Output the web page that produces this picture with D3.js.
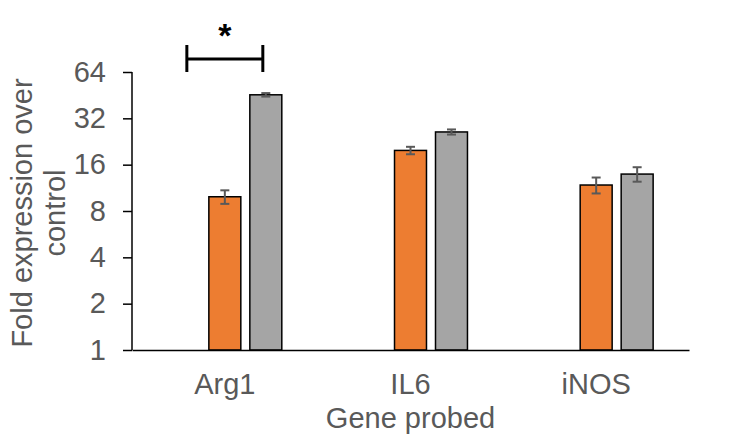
<!DOCTYPE html>
<html>
<head>
<meta charset="utf-8">
<script src="https://cdn.jsdelivr.net/npm/d3@7"></script>
<style>
  body { margin: 0; background: #fff; }
  svg { font-family: Arial, "Liberation Sans", sans-serif; }
</style>
</head>
<body>
<svg id="chart" width="750" height="440"></svg>
<script>
// Data
const genes = ['Arg1', 'IL6', 'iNOS'];
const slots = ['control', 'groupA', 'groupB']; // control slot is empty (fold = 1)
const groupA = [9.9, 19.8, 11.8];
const groupAErr = [1.0, 1.1, 1.4];
const groupB = [45.5, 26.1, 13.9];
const groupBErr = [1.2, 1.0, 1.5];
const yTicks = [1, 2, 4, 8, 16, 32, 64];

const margin = { top: 72, right: 61, bottom: 90, left: 132 };
const width = 750 - margin.left - margin.right;
const height = 440 - margin.top - margin.bottom;
const fontSize = '29px';

const svg = d3.select('#chart')
    .append('g')
    .attr('transform', `translate(${margin.left},${margin.top})`);

const x = d3.scaleBand().domain(genes).range([0, width]).padding(0);
const xi = d3.scaleBand().domain(slots).range([0, x.bandwidth()])
    .paddingInner(0.22).paddingOuter(0.875);
const y = d3.scaleLog().base(2).domain([1, 64]).range([height, 0]);

const textColor = '#595959';

// Bars
const series = [
    { key: 'groupA', values: groupA, errs: groupAErr, color: '#ED7D31' },
    { key: 'groupB', values: groupB, errs: groupBErr, color: '#A5A5A5' }
];

series.forEach(s => {
    const rows = genes.map((g, i) => ({ gene: g, v: s.values[i], e: s.errs[i] }));

    svg.selectAll(`.bar-${s.key}`)
        .data(rows)
        .enter()
        .append('rect')
        .attr('x', d => x(d.gene) + xi(s.key))
        .attr('y', d => y(d.v))
        .attr('width', xi.bandwidth())
        .attr('height', d => height - y(d.v))
        .attr('fill', s.color)
        .attr('stroke', '#000')
        .attr('stroke-width', 1.5);

    // Error bars
    const eb = svg.selectAll(`.err-${s.key}`)
        .data(rows)
        .enter()
        .append('g')
        .attr('stroke', '#595959')
        .attr('stroke-width', 2);
    const cx = d => x(d.gene) + xi(s.key) + xi.bandwidth() / 2;
    eb.append('line')
        .attr('x1', cx).attr('x2', cx)
        .attr('y1', d => y(d.v + d.e)).attr('y2', d => y(d.v - d.e));
    eb.append('line')
        .attr('x1', d => cx(d) - 4.5).attr('x2', d => cx(d) + 4.5)
        .attr('y1', d => y(d.v + d.e)).attr('y2', d => y(d.v + d.e));
    eb.append('line')
        .attr('x1', d => cx(d) - 4.5).attr('x2', d => cx(d) + 4.5)
        .attr('y1', d => y(d.v - d.e)).attr('y2', d => y(d.v - d.e));
});

// Y Axis
const yAxis = svg.append('g')
    .call(d3.axisLeft(y).tickValues(yTicks).tickFormat(d3.format('d')).tickSize(9).tickPadding(17));
yAxis.selectAll('line').attr('stroke', '#000').attr('stroke-width', 1.5);
yAxis.select('.domain').attr('stroke', '#000').attr('stroke-width', 1.5).attr('d', `M0,0V${height}`);
yAxis.selectAll('text').attr('font-size', fontSize).attr('fill', textColor);

// X Axis
const xAxis = svg.append('g')
    .attr('transform', `translate(0,${height})`)
    .call(d3.axisBottom(x).tickSize(0).tickPadding(23));
xAxis.select('.domain').attr('stroke', '#000').attr('stroke-width', 1.5);
xAxis.selectAll('text').attr('font-size', fontSize).attr('fill', textColor);

// Axis titles
svg.append('text')
    .attr('x', width / 2)
    .attr('y', height + 78)
    .attr('text-anchor', 'middle')
    .attr('font-size', fontSize)
    .attr('fill', textColor)
    .text('Gene probed');

const yTitle = svg.append('text')
    .attr('transform', `translate(${-margin.left + 32},${height / 2 + 2}) rotate(-90)`)
    .attr('text-anchor', 'middle')
    .attr('font-size', fontSize)
    .attr('fill', textColor);
yTitle.append('tspan').attr('x', 0).attr('y', 0).text('Fold expression over');
yTitle.append('tspan').attr('x', 0).attr('dy', 33).text('control');

// Significance bracket (Arg1)
const bx1 = x('Arg1') + xi('control') + xi.bandwidth() / 2 + 3;
const bx2 = x('Arg1') + xi('groupB') + xi.bandwidth() / 2 - 3;
const by = y(64) - 13;
const br = svg.append('g').attr('stroke', '#000').attr('stroke-width', 3);
br.append('line').attr('x1', bx1).attr('x2', bx2).attr('y1', by).attr('y2', by);
br.append('line').attr('x1', bx1).attr('x2', bx1).attr('y1', by - 14).attr('y2', by + 13);
br.append('line').attr('x1', bx2).attr('x2', bx2).attr('y1', by - 14).attr('y2', by + 13);

svg.append('text')
    .attr('x', (bx1 + bx2) / 2)
    .attr('y', by - 12)
    .attr('text-anchor', 'middle')
    .attr('font-size', '34px')
    .attr('font-weight', 'bold')
    .attr('fill', '#000')
    .text('*');
</script>
</body>
</html>
